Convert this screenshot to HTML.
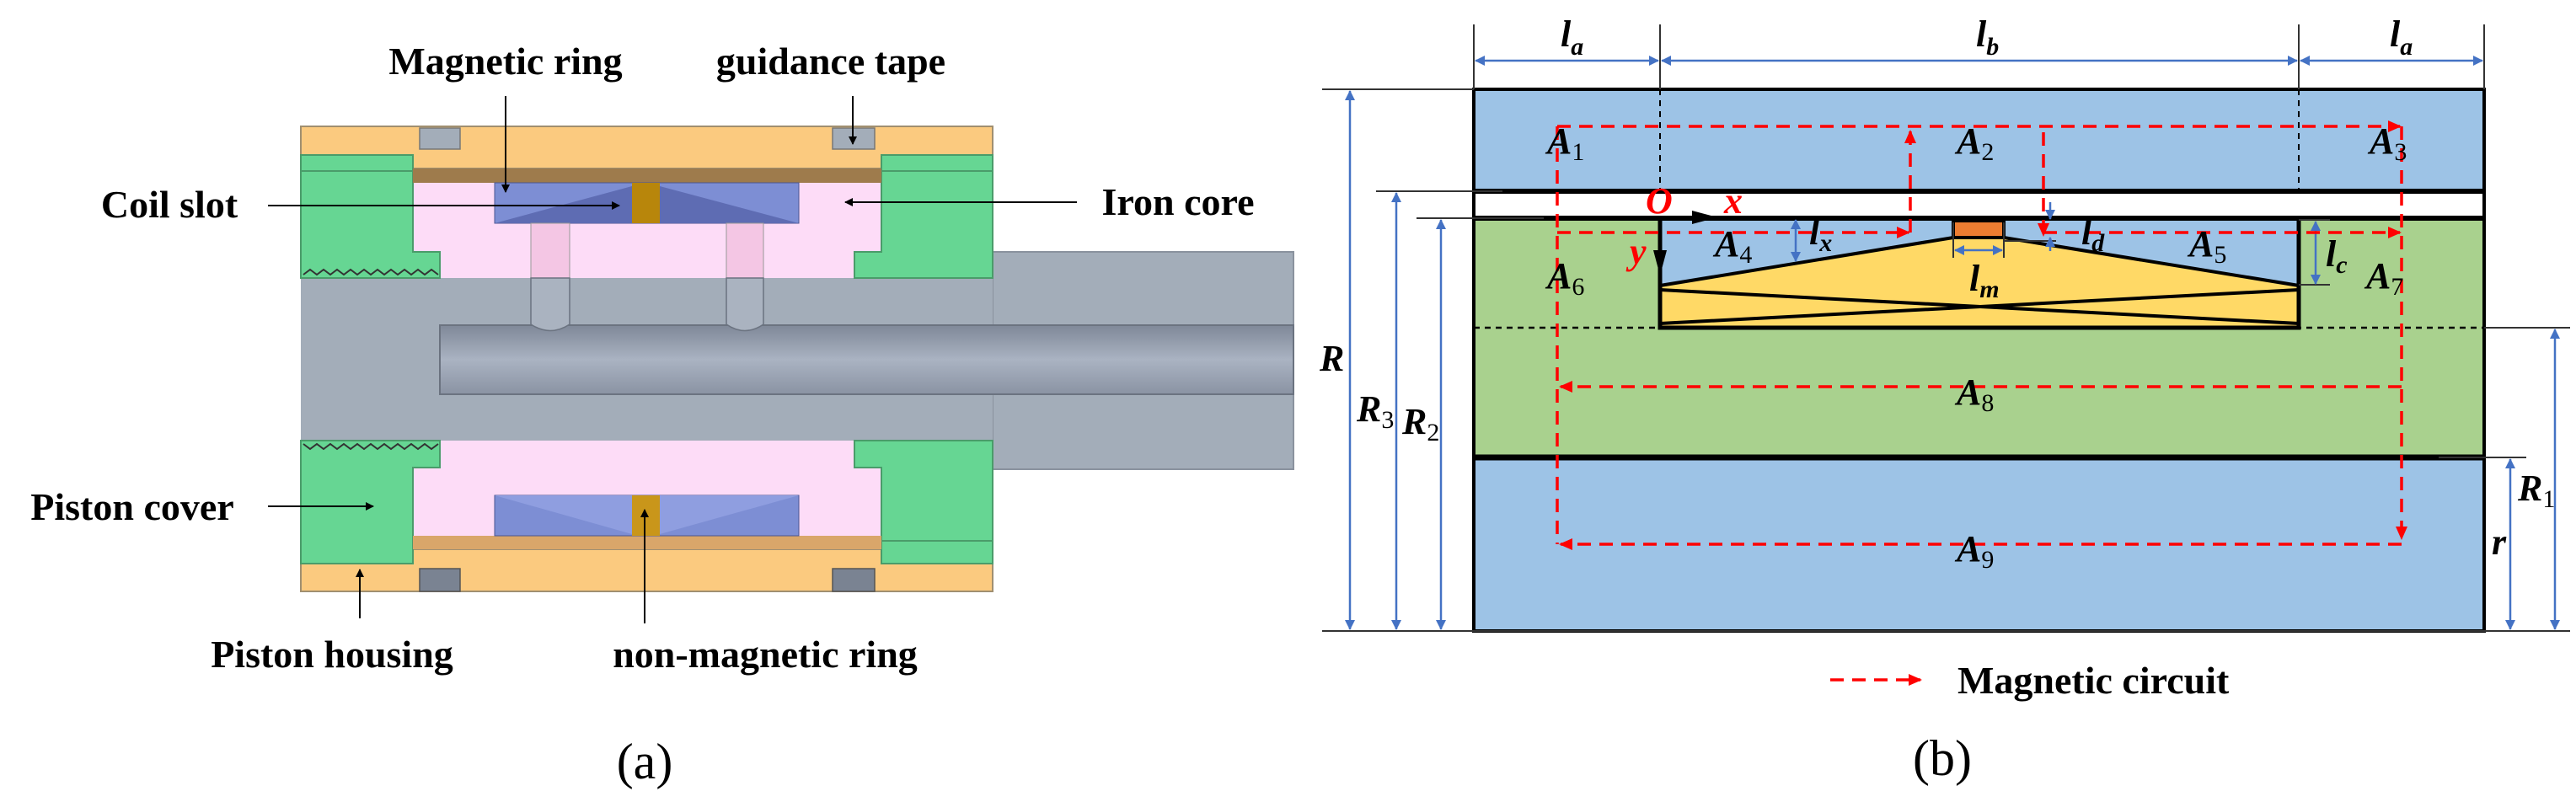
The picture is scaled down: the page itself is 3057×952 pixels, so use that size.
<!DOCTYPE html>
<html><head><meta charset="utf-8"><style>
html,body{margin:0;padding:0;background:#fff}
svg{display:block}
.lb{font-family:"Liberation Serif",serif;font-weight:bold;font-size:46px;fill:#000}
.m{font-family:"Liberation Serif",serif;font-style:italic;font-weight:bold;font-size:44px;fill:#000}
.s{font-size:30px}
.n{font-size:30px;font-style:normal;font-weight:normal}
.r{fill:#ff0000}
</style></head><body>
<svg width="3057" height="952" viewBox="0 0 3057 952" xmlns="http://www.w3.org/2000/svg">
<defs>
<marker id="ak" markerWidth="10" markerHeight="10" refX="9" refY="5" orient="auto" markerUnits="userSpaceOnUse"><path d="M0,0 L10,5 L0,10 z" fill="#000"/></marker>
<marker id="ab" markerWidth="12" markerHeight="12" refX="11" refY="6" orient="auto-start-reverse" markerUnits="userSpaceOnUse"><path d="M0,0 L12,6 L0,12 z" fill="#4472c4"/></marker>
<marker id="ar" markerWidth="16" markerHeight="14" refX="14" refY="7" orient="auto" markerUnits="userSpaceOnUse"><path d="M0,0 L16,7 L0,14 z" fill="#ff0000"/></marker>
<marker id="abig" markerWidth="30" markerHeight="16" refX="28" refY="8" orient="auto" markerUnits="userSpaceOnUse"><path d="M0,0 L30,8 L0,16 z" fill="#000"/></marker>
<linearGradient id="rod" x1="0" y1="0" x2="0" y2="1"><stop offset="0" stop-color="#7f8898"/><stop offset="0.5" stop-color="#aab3c2"/><stop offset="1" stop-color="#8a93a3"/></linearGradient>
</defs>

<!-- ===== Panel (a) ===== -->
<rect x="1178" y="299" width="357" height="258" fill="#a3adb9" stroke="#8a929e" stroke-width="2"/>
<rect x="357" y="150" width="821" height="50" fill="#fbca7f" stroke="#a08f70" stroke-width="2"/>
<rect x="357" y="652" width="821" height="50" fill="#fbca7f" stroke="#a08f70" stroke-width="2"/>
<rect x="357" y="330" width="821" height="193" fill="#a3adb9"/>
<rect x="490" y="217" width="556" height="82" fill="#fddcf7"/>
<rect x="522" y="299" width="492" height="31" fill="#fddcf7"/>
<rect x="522" y="523" width="492" height="32" fill="#fddcf7"/>
<rect x="490" y="555" width="556" height="81" fill="#fddcf7"/>
<path d="M357,184 H490 V299 H522 V330 H357 Z" fill="#66d693" stroke="#4a9c6a" stroke-width="2"/>
<path d="M1046,184 H1178 V330 H1014 V299 H1046 Z" fill="#66d693" stroke="#4a9c6a" stroke-width="2"/>
<path d="M357,523 H522 V555 H490 V669 H357 Z" fill="#66d693" stroke="#4a9c6a" stroke-width="2"/>
<path d="M1014,523 H1178 V669 H1046 V555 H1014 Z" fill="#66d693" stroke="#4a9c6a" stroke-width="2"/>
<line x1="357" y1="203" x2="490" y2="203" stroke="#4a9c6a" stroke-width="2"/>
<line x1="1046" y1="203" x2="1178" y2="203" stroke="#4a9c6a" stroke-width="2"/>
<line x1="1046" y1="642" x2="1178" y2="642" stroke="#4a9c6a" stroke-width="2"/>
<rect x="490" y="200" width="556" height="17" fill="#9e7b4c"/>
<rect x="490" y="636" width="556" height="16" fill="#d9a66a"/>
<rect x="587" y="217" width="361" height="48" fill="#7d8ed4" stroke="#4a5590" stroke-width="1"/>
<polygon points="587,265 750,221 750,265" fill="#5e6cb3"/>
<polygon points="783,221 948,265 783,265" fill="#5e6cb3"/>
<rect x="750" y="217" width="33" height="48" fill="#b8860b"/>
<rect x="587" y="588" width="361" height="48" fill="#7d8ed4" stroke="#4a5590" stroke-width="1"/>
<polygon points="587,588 750,588 750,634" fill="#8f9ee0"/>
<polygon points="783,634 948,588 783,588" fill="#8f9ee0"/>
<rect x="750" y="588" width="33" height="48" fill="#c9961a"/>
<rect x="522" y="386" width="1013" height="82" fill="url(#rod)" stroke="#6b7380" stroke-width="2"/>
<rect x="630" y="265" width="46" height="65" fill="#f4c6e4" stroke="#999" stroke-width="1"/>
<path d="M630,330 H676 V385 Q653,400 630,385 Z" fill="#aab3c0" stroke="#6b7380" stroke-width="1.5"/>
<rect x="862" y="265" width="44" height="65" fill="#f4c6e4" stroke="#999" stroke-width="1"/>
<path d="M862,330 H906 V385 Q884,400 862,385 Z" fill="#aab3c0" stroke="#6b7380" stroke-width="1.5"/>
<path d="M360,326 l8,-6 l8,6 l8,-6 l8,6 l8,-6 l8,6 l8,-6 l8,6 l8,-6 l8,6 l8,-6 l8,6 l8,-6 l8,6 l8,-6 l8,6 l8,-6 l8,6 l8,-6 l8,6" fill="none" stroke="#333" stroke-width="2"/>
<path d="M360,527 l8,6 l8,-6 l8,6 l8,-6 l8,6 l8,-6 l8,6 l8,-6 l8,6 l8,-6 l8,6 l8,-6 l8,6 l8,-6 l8,6 l8,-6 l8,6 l8,-6 l8,6 l8,-6" fill="none" stroke="#333" stroke-width="2"/>
<rect x="498" y="152" width="48" height="25" fill="#a3adb9" stroke="#777" stroke-width="1.5"/>
<rect x="988" y="152" width="50" height="25" fill="#a3adb9" stroke="#777" stroke-width="1.5"/>
<rect x="498" y="675" width="48" height="27" fill="#7a8392" stroke="#555" stroke-width="1.5"/>
<rect x="988" y="675" width="50" height="27" fill="#7a8392" stroke="#555" stroke-width="1.5"/>
<g stroke="#000" stroke-width="2" fill="none">
<line x1="600" y1="114" x2="600" y2="228" marker-end="url(#ak)"/>
<line x1="1012" y1="114" x2="1012" y2="171" marker-end="url(#ak)"/>
<line x1="318" y1="244" x2="735" y2="244" marker-end="url(#ak)"/>
<line x1="1278" y1="240" x2="1003" y2="240" marker-end="url(#ak)"/>
<line x1="318" y1="601" x2="443" y2="601" marker-end="url(#ak)"/>
<line x1="427" y1="734" x2="427" y2="676" marker-end="url(#ak)"/>
<line x1="765" y1="740" x2="765" y2="605" marker-end="url(#ak)"/>
</g>
<text class="lb" x="600" y="88" text-anchor="middle">Magnetic ring</text>
<text class="lb" x="986" y="88" text-anchor="middle">guidance tape</text>
<text class="lb" x="201" y="258" text-anchor="middle">Coil slot</text>
<text class="lb" x="1398" y="255" text-anchor="middle">Iron core</text>
<text class="lb" x="157" y="617" text-anchor="middle">Piston cover</text>
<text class="lb" x="394" y="792" text-anchor="middle">Piston housing</text>
<text class="lb" x="908" y="792" text-anchor="middle">non-magnetic ring</text>
<text x="765" y="924" text-anchor="middle" font-family="Liberation Serif,serif" font-size="60">(a)</text>

<!-- ===== Panel (b) ===== -->
<rect x="1749" y="106" width="1199" height="121" fill="#9dc3e6"/>
<rect x="1749" y="259" width="1199" height="284" fill="#a9d18e"/>
<rect x="1749" y="543" width="1199" height="206" fill="#9dc3e6"/>
<rect x="1970" y="259" width="758" height="130" fill="#9dc3e6"/>
<polygon points="1970,339 2318,282 2378,282 2728,339 2728,389 1970,389" fill="#ffd966" stroke="#000" stroke-width="4"/>
<line x1="1970" y1="344" x2="2728" y2="384" stroke="#000" stroke-width="4"/>
<line x1="1970" y1="384" x2="2728" y2="344" stroke="#000" stroke-width="4"/>
<rect x="1970" y="259" width="758" height="130" fill="none" stroke="#000" stroke-width="5"/>
<rect x="2318" y="262" width="60" height="20" fill="#ed7d31" stroke="#000" stroke-width="4"/>
<rect x="1749" y="106" width="1199" height="643" fill="none" stroke="#000" stroke-width="4"/>
<line x1="1749" y1="227" x2="2948" y2="227" stroke="#000" stroke-width="6"/>
<line x1="1749" y1="259" x2="2948" y2="259" stroke="#000" stroke-width="6"/>
<line x1="1749" y1="543" x2="2948" y2="543" stroke="#000" stroke-width="7"/>
<line x1="1749" y1="389" x2="2948" y2="389" stroke="#000" stroke-width="2.5" stroke-dasharray="7,6"/>
<line x1="1970" y1="106" x2="1970" y2="227" stroke="#000" stroke-width="2" stroke-dasharray="7,6"/>
<line x1="2728" y1="106" x2="2728" y2="227" stroke="#000" stroke-width="2" stroke-dasharray="7,6"/>
<g stroke="#333" stroke-width="2">
<line x1="1749" y1="29" x2="1749" y2="106"/><line x1="1970" y1="29" x2="1970" y2="106"/>
<line x1="2728" y1="29" x2="2728" y2="106"/><line x1="2948" y1="29" x2="2948" y2="106"/>
<line x1="1569" y1="106" x2="1749" y2="106"/>
<line x1="1633" y1="227" x2="1783" y2="227"/>
<line x1="1681" y1="259" x2="1832" y2="259"/>
<line x1="1569" y1="749" x2="3050" y2="749"/>
<line x1="2948" y1="389" x2="3050" y2="389"/>
<line x1="2894" y1="543" x2="2998" y2="543"/>
<line x1="2728" y1="261" x2="2765" y2="261"/><line x1="2728" y1="338" x2="2765" y2="338"/>
<line x1="2318" y1="264" x2="2318" y2="306"/><line x1="2378" y1="264" x2="2378" y2="306"/>
<line x1="2378" y1="286" x2="2440" y2="286"/>
</g>
<g stroke="#4472c4" stroke-width="2.5" fill="none">
<line x1="1751" y1="72" x2="1968" y2="72" marker-start="url(#ab)" marker-end="url(#ab)"/>
<line x1="1972" y1="72" x2="2726" y2="72" marker-start="url(#ab)" marker-end="url(#ab)"/>
<line x1="2730" y1="72" x2="2946" y2="72" marker-start="url(#ab)" marker-end="url(#ab)"/>
<line x1="1602" y1="108" x2="1602" y2="747" marker-start="url(#ab)" marker-end="url(#ab)"/>
<line x1="1657" y1="229" x2="1657" y2="747" marker-start="url(#ab)" marker-end="url(#ab)"/>
<line x1="1710" y1="261" x2="1710" y2="747" marker-start="url(#ab)" marker-end="url(#ab)"/>
<line x1="3032" y1="391" x2="3032" y2="747" marker-start="url(#ab)" marker-end="url(#ab)"/>
<line x1="2979" y1="545" x2="2979" y2="747" marker-start="url(#ab)" marker-end="url(#ab)"/>
<line x1="2131" y1="261" x2="2131" y2="310" marker-start="url(#ab)" marker-end="url(#ab)"/>
<line x1="2748" y1="263" x2="2748" y2="337" marker-start="url(#ab)" marker-end="url(#ab)"/>
<line x1="2320" y1="297" x2="2376" y2="297" marker-start="url(#ab)" marker-end="url(#ab)"/>
<line x1="2433" y1="240" x2="2433" y2="260" marker-end="url(#ab)"/>
<line x1="2433" y1="298" x2="2433" y2="282" marker-end="url(#ab)"/>
</g>
<line x1="1832" y1="258" x2="2036" y2="258" stroke="#000" stroke-width="3" marker-end="url(#abig)"/>
<line x1="1970" y1="259" x2="1970" y2="325" stroke="#000" stroke-width="3" marker-end="url(#abig)"/>
<g stroke="#ff0000" stroke-width="3.5" fill="none" stroke-dasharray="16,10">
<line x1="1848" y1="150" x2="2848" y2="150" marker-end="url(#ar)"/>
<line x1="2850" y1="150" x2="2850" y2="639" marker-end="url(#ar)"/>
<line x1="1848" y1="150" x2="1848" y2="646"/>
<line x1="1848" y1="276" x2="2265" y2="276" marker-end="url(#ar)"/>
<line x1="2267" y1="276" x2="2267" y2="156" marker-end="url(#ar)"/>
<line x1="2425" y1="157" x2="2425" y2="279" marker-end="url(#ar)"/>
<line x1="2425" y1="276" x2="2848" y2="276" marker-end="url(#ar)"/>
<line x1="2850" y1="459" x2="1852" y2="459" marker-end="url(#ar)"/>
<line x1="2850" y1="646" x2="1852" y2="646" marker-end="url(#ar)"/>
<line x1="2172" y1="807" x2="2279" y2="807" marker-end="url(#ar)"/>
</g>
<text class="m" x="1852" y="55">l<tspan class="s" dy="10">a</tspan></text>
<text class="m" x="2345" y="55">l<tspan class="s" dy="10">b</tspan></text>
<text class="m" x="2836" y="55">l<tspan class="s" dy="10">a</tspan></text>
<text class="m" x="1836" y="182">A<tspan class="n" dy="8">1</tspan></text>
<text class="m" x="2322" y="182">A<tspan class="n" dy="8">2</tspan></text>
<text class="m" x="2812" y="182">A<tspan class="n" dy="8">3</tspan></text>
<text class="m" x="2035" y="304">A<tspan class="n" dy="8">4</tspan></text>
<text class="m" x="2598" y="304">A<tspan class="n" dy="8">5</tspan></text>
<text class="m" x="1836" y="342">A<tspan class="n" dy="8">6</tspan></text>
<text class="m" x="2808" y="342">A<tspan class="n" dy="8">7</tspan></text>
<text class="m" x="2322" y="480">A<tspan class="n" dy="8">8</tspan></text>
<text class="m" x="2322" y="666">A<tspan class="n" dy="8">9</tspan></text>
<text class="m" x="2147" y="290">l<tspan class="s" dy="8">x</tspan></text>
<text class="m" x="2470" y="290">l<tspan class="s" dy="8">d</tspan></text>
<text class="m" x="2337" y="345">l<tspan class="s" dy="8">m</tspan></text>
<text class="m" x="2760" y="316">l<tspan class="s" dy="8">c</tspan></text>
<text class="m r" x="1953" y="253">O</text>
<text class="m r" x="2046" y="253" font-size="34">x</text>
<text class="m r" x="1934" y="313" font-size="34">y</text>
<text class="m" x="1566" y="440">R</text>
<text class="m" x="1610" y="500">R<tspan class="n" dy="8">3</tspan></text>
<text class="m" x="1664" y="515">R<tspan class="n" dy="8">2</tspan></text>
<text class="m" x="2988" y="594">R<tspan class="n" dy="8">1</tspan></text>
<text class="m" x="2957" y="658">r</text>
<text class="lb" x="2323" y="823" font-size="42">Magnetic circuit</text>
<text x="2305" y="920" text-anchor="middle" font-family="Liberation Serif,serif" font-size="60">(b)</text>
</svg>
</body></html>
